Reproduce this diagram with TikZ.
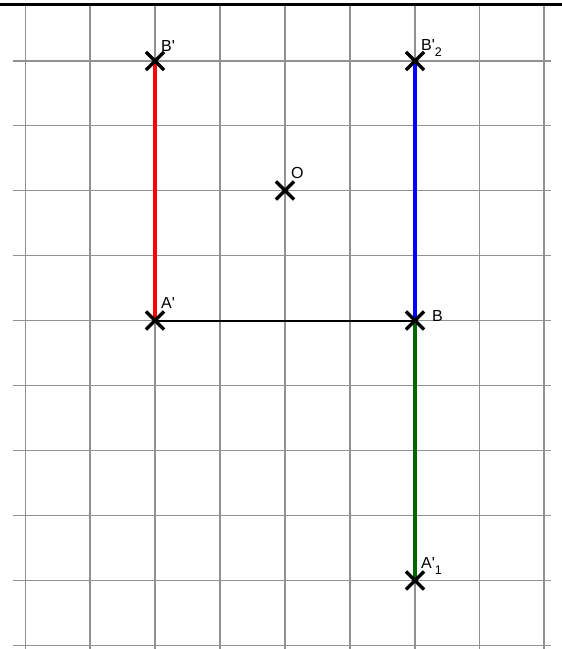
\documentclass[tikz,border=0pt]{standalone}
\usepackage{fontspec}
\newfontfamily\labfont{Liberation Sans}[Ligatures=TeXOff]
\usetikzlibrary{shapes.misc}
\definecolor{gridgray}{RGB}{145,145,145}
\definecolor{dgreen}{RGB}{0,100,0}
\tikzset{
  gridline/.style={draw=gridgray, line width=1.8pt},
  seg/.style={line width=3.2pt},
  xmark/.style={cross out, draw=black, line width=3.2pt, minimum size=15pt, inner sep=0pt},
  lab/.style={anchor=base west, inner sep=0pt, text=black, font=\labfont\fontsize{16}{16}\selectfont},
}
\newcommand{\subtwo}[1]{\raisebox{-6.5pt}{\fontsize{12.5}{12.5}\selectfont #1}}
\begin{document}
\begin{tikzpicture}[x=1pt,y=-1pt]
\useasboundingbox[fill=white] (0,0) rectangle (562,649);
% grid
\foreach \x in {25.5,90.3,155,220,285,350,415,479.5,544}
  \draw[gridline] (\x,5) -- (\x,649);
\foreach \y in {61,125.5,190.5,255.5,320.5,385.5,450.5,515.5,580.5,645.5}
  \draw[gridline] (13,\y) -- (551,\y);
\draw[line width=3.2pt, black] (0,4.5) -- (562,4.5);
% points
\coordinate (Bp) at (155,61);
\coordinate (Bp2) at (415,61);
\coordinate (O) at (285,190.5);
\coordinate (Ap) at (155,320.5);
\coordinate (B) at (415,320.5);
\coordinate (Ap1) at (415,580.5);
% segments
\draw[seg, red] (Bp) -- (Ap);
\draw[seg, blue] (Bp2) -- (B);
\draw[seg, dgreen] (B) -- (Ap1);
\draw[line width=2pt, black] (Ap) -- (B);
% crosses
\foreach \p in {Bp,Bp2,O,Ap,B,Ap1}
  \node[xmark] (m\p) at (\p) {};
% labels
\node[lab] (lBp) at (161,51) {B'};
\node[lab] (lBp2) at (421,50) {B'\subtwo{2}};
\node[lab] (lO) at (291,178) {O};
\node[lab] (lAp) at (161,308) {A'};
\node[lab] (lB) at (432,321) {B};
\node[lab] (lAp1) at (421,568) {A'\subtwo{1}};
\end{tikzpicture}
\end{document}
